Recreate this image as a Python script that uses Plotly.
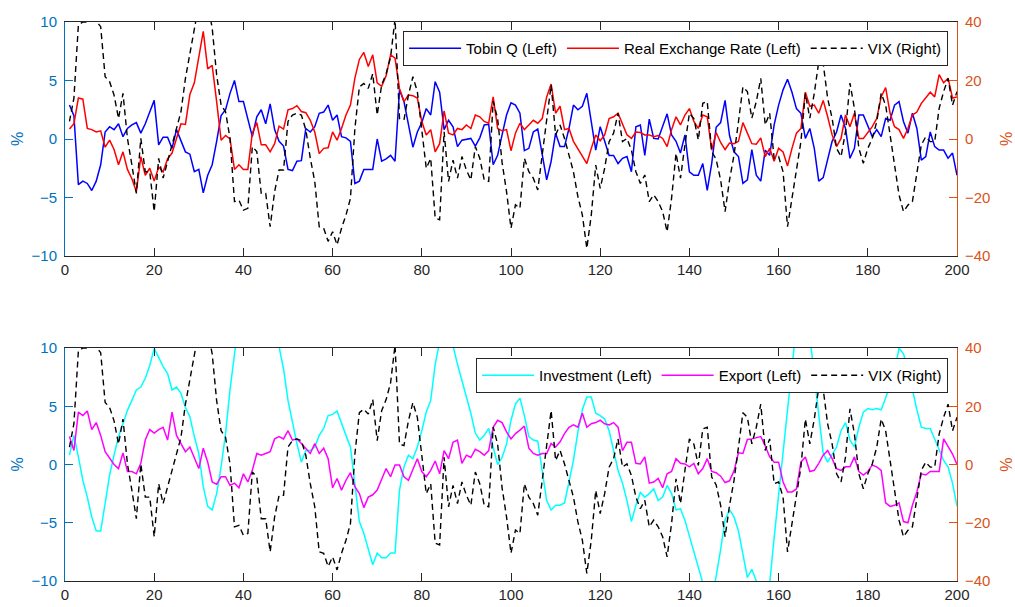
import plotly.graph_objects as go

x = list(range(1, 201))

tobin_q = [
    2.9, 2.0, -3.9, -3.6, -3.8, -4.4, -3.6, -2.2, 0.6, 1.05,
    0.8, 1.3, 0.2, 0.9, 1.2, 1.4, 0.5, 1.3, 2.3, 3.3,
    -0.5, 0.15, 0.15, -0.8, 0.8, -0.2, -1.1, -1.3, -2.8, -2.6,
    -4.6, -3.1, -2.2, -0.2, 2.0, 2.5, 3.9, 5.0, 3.2, 3.2,
    1.8, 0.2, 1.9, 2.5, 1.3, 3.0, 0.8, -0.2, -0.6, -2.6,
    -2.7, -1.9, -1.85, 0.9, 0.6, 1.05, 2.2, 2.3, 2.9, 1.6,
    2.05, 0.2, 0.1, -0.2, -3.8, -3.6, -2.6, -2.6, -2.6, 0.0,
    -1.9, -1.7, -1.4, -1.9, 4.2, 3.2, 1.2, -0.7, 0.6, 1.4,
    2.6, 2.05, 4.9, 4.0, 0.8, 1.6, 1.05, -0.65, -0.1, 0.0,
    0.05, -0.6, 0.1, 1.2, 1.25, -2.2, -1.4, 0.35, 2.05, 3.1,
    2.9, 2.2, -1.0, -0.8, 0.6, 0.85, -1.4, -3.5, -1.9, 0.5,
    -0.65, -0.65, 0.9, 2.9, 2.5, 2.8, 3.9, 1.6, -0.95, 1.05,
    -0.1, -1.4, -1.4, -2.1, -1.65, -1.5, -2.8, 1.05, 1.2, -1.4,
    1.7, 0.05, 0.0, 1.0, 2.15, 0.35, -0.2, -1.2, 0.35, -2.8,
    -3.1, -3.1, -2.1, -4.4, -2.1, 1.0, 1.4, 3.3, 0.3, -1.1,
    -1.5, -3.8, -3.5, -0.9, -3.1, -3.6, -0.95, -1.4, 1.2, 2.9,
    4.2, 5.1, 4.0, 2.6, 2.2, 0.05, 0.9, -0.8, -3.6, -3.3,
    -1.65, -0.2, 0.6, 2.05, 0.9, -1.65, -0.8, 2.05, 2.05, 1.2,
    0.2, 0.8, 0.2, 1.75, 1.6, 2.9, 3.2, 1.5, 0.5, 2.2,
    0.9, -1.8, -1.5, 0.6, -0.65, -0.95, -0.95, -1.65, -1.2, -3.1,
]

real_exchange_rate = [
    0.85, 1.3, 3.5, 3.4, 0.9, 0.8, 0.6, 0.7, -0.7, -0.1,
    -0.9, -2.2, -1.1, -2.6, -3.4, -4.5, -1.5, -3.1, -2.5, -3.6,
    -2.4, -2.8, -1.7, -1.2, 0.05, 1.3, 1.25, 3.8, 4.8, 7.0,
    9.2, 6.0, 6.3, 3.2, -0.1, 0.3, 0.0, -2.6, -2.2, -2.6,
    -2.6, 0.5, 1.4, -0.5, -0.5, -1.1, -0.4, 1.1, 0.85, 2.5,
    2.6, 2.85, 2.35, 2.25, 1.6, 0.6, -1.25, -0.8, -0.75, 0.6,
    -0.1, 0.9, 2.05, 2.9, 5.2, 6.8, 7.4, 6.2, 7.2, 4.8,
    4.5, 5.4, 7.2, 6.9, 4.3, 3.2, 3.75, 3.7, 3.5, 1.5,
    0.35, 0.8, -1.1, -0.4, 2.4, 0.5, 0.35, 0.9, 0.8, 1.2,
    0.9, 2.05, 1.9, 1.5, 1.35, 3.6, 0.9, 0.7, 0.8, -1.0,
    0.5, 1.35, 0.8, 1.2, 1.6, 1.35, 1.75, 3.6, 4.7, 2.2,
    2.8, 0.8, 0.9, -0.2, -0.8, -1.4, -2.1, -0.8, 0.35, -0.15,
    0.35, 1.75, 1.9, 2.2, 1.2, 0.35, 0.05, 0.6, 0.55, 0.35,
    0.35, 0.2, 0.3, 0.05, -0.65, 0.8, 1.9, 1.2, 2.05, 2.6,
    1.5, 0.9, 2.05, 1.9, -0.95, 0.55, -0.3, -0.9, -0.35, -0.4,
    -0.2, 1.4, 0.5, -0.4, -0.45, 0.1, -1.5, -0.8, -1.9, -0.8,
    -1.1, -2.3, -0.8, 0.5, 0.9, 4.0, 2.8, 2.9, 2.2, 3.3,
    1.9, 0.35, -0.65, 0.05, 2.05, 1.05, 2.2, 0.05, 0.05, 0.6,
    1.05, 1.75, 3.6, 4.4, 2.2, 1.05, 0.8, 0.05, 0.9, 2.05,
    2.3, 3.05, 3.5, 4.0, 3.6, 5.5, 4.8, 5.2, 3.5, 3.6,
]

vix = [
    6, 14, 39, 40, 40, 40.7, 40.3, 38.4, 21.3, 19.6,
    15, 7, 15.6, 0.2, -8.9, -18.6, 0.2, -11.2, -11.2, -24.8,
    -6.6, -13.4, -7.7, -2, 3.6, 9.3, 20.7, 29.9, 39.5, 46,
    50, 46, 38, 21.9, 11.6, 9.3, 0.2, -21.4, -20.9, -24.3,
    -23.7, -2.6, -4.3, -18.6, -18.6, -30, -18, -10.6, -10.6, 6,
    8.2, 8.8, 8.2, 3.1, -6.6, -14.5, -30, -30.5, -35, -31.7,
    -36.2, -30.5, -26, -20.3, 3.6, 17.8, 19, 17.3, 22.3, 8.2,
    18.5, 22.3, 28, 41, 7, 6.5, 15, 21.3, 16.2, 3.6,
    -10, -6.6, -27, -27.6, 2.5, -14.5, -7.2, -13.4, -6, -10.6,
    -14, -2.6, -6.6, -14, -14.5, 12.9, 7, -8, -18, -30.5,
    -22.5, -23.7, -6.6, -11.2, -13.4, -17.4, -5.5, 8.2, 18.5, 1.4,
    4.8, 0.2, -5.5, -11.2, -19.7, -26, -37.4, -26, -8.9, -16.9,
    -10, -0.9, 2, 8.8, -0.9, 0.2, -3.8, -11.2, -15.2, -12.3,
    -21.4, -19.1, -21.4, -24.8, -31.7, -20.3, -4.9, -13.4, -2, 8.8,
    7, -0.3, 12.2, 12.8, -4.3, -7, -14, -24.8, -14, -5.5,
    5.9, 17.8, 16.2, 7.1, 12.8, 20.7, 4.8, 8.8, -6.6, -6,
    -11.2, -30, -20.3, -10, -0.9, 15.6, 7.1, 15.6, 26.4, 25.8,
    13.9, 7.1, -3.2, -6, 2.5, 19.1, 10.5, -3.2, -8.3, -3.2,
    0.2, 5.9, 15.6, 11.6, 1.9, -8.9, -19.1, -24.8, -22.6, -21.4,
    -12.3, -2, 0.8, -0.9, -0.9, 10.5, 16.2, 20.7, 11.6, 16.2,
]

investment = [
    0.8, 2.5, 0.65, -1.35, -2.8, -4.5, -5.7, -5.7, -3.35, -0.9,
    0.8, 2.4, 3.5, 4.65, 5.5, 6.4, 6.65, 7.4, 8.5, 9.95,
    9.2, 8.4, 7.8, 6.4, 6.65, 6.1, 4.9, 4.1, 2.4, 0.95,
    -1.9, -3.6, -3.9, -2.5, -0.2, 2.65, 6.4, 9.8, 12.5, 14.5,
    15.5, 16, 15.5, 14.5, 13.5, 12.5, 11.3, 10.1, 8.2, 5.5,
    3.5, 1.8, 0.2, 1.2, 1.2, 1.5, 2.5, 3.1, 4.2, 4.3,
    4.6, 3.5, 2.5, 1.5, -1.6, -4.9, -5.9, -7.2, -8.6, -7.6,
    -8.0, -8.0, -7.6, -7.6, -2.2, -0.2, 0.8, 0.5, 1.5, 2.9,
    4.5, 5.5, 8.6, 10.5, 11.5, 11.0, 10.2, 8.6, 7.2, 5.8,
    4.4, 2.7, 2.1, 2.5, 3.1, 1.5, 0.0, 0.6, 1.75, 3.8,
    5.2, 5.7, 4.2, 2.4, 2.1, 2.0, -0.5, -3.1, -3.9, -3.5,
    -3.5, -3.3, -1.5, 0.35, 2.8, 4.7, 5.8, 5.8, 4.4, 4.2,
    3.9, 2.9, 1.2, -0.5, -1.6, -3.1, -4.9, -3.5, -2.4, -2.8,
    -2.5, -2.1, -3.1, -2.8, -1.8, -2.5, -3.9, -3.8, -4.8, -6.2,
    -7.7, -9.1, -10.5, -11.5, -11.5, -9.6, -7.3, -4.75, -3.9, -4.5,
    -5.7, -7.7, -9.7, -9.0, -9.9, -11.0, -11.5, -10.2, -6.3, -2.6,
    1.1, 4.8, 8.5, 12.0, 13.5, 13.5, 11.0, 7.8, 4.4, 0.95,
    0.2, 0.8, 1.5, 2.9, 3.6, 2.1, 1.5, 3.2, 4.5, 4.8,
    4.7, 4.8, 4.7, 5.7, 6.8, 8.0, 10.0, 9.5, 8.2, 6.4,
    4.7, 3.2, 3.1, 3.1, 2.2, 1.2, 0.35, -0.2, -1.6, -3.6,
]

export = [
    2.4, 1.2, 4.5, 4.2, 4.6, 3.0, 3.6, 2.5, 1.1, 0.5,
    0.0, -0.35, 1.0, -0.6, -0.6, -0.8, 0.1, 2.1, 3.0, 2.7,
    3.0, 3.2, 2.1, 4.5, 2.5, 1.8, 1.1, 1.5, 0.65, -0.35,
    1.4, 0.2, -1.5, -1.7, -1.05, -1.05, -1.8, -1.6, -2.0, -0.8,
    -1.5, -0.5, 0.95, 0.8, 0.95, 1.1, 2.2, 2.4, 2.2, 2.9,
    2.1, 2.2, 1.8, 1.4, 0.95, 1.8, 0.95, 1.4, 0.5, -2.0,
    -1.2, -2.2, -1.35, -0.7, -1.9, -2.5, -3.7, -2.8, -2.6, -2.2,
    -1.35, -0.35, -1.05, -0.05, -0.05, -1.05, -1.35, -0.35, 0.5, -0.6,
    -1.05, -0.5, 0.3, -0.8, 1.2, 0.5, 1.9, 2.1, 0.1, 0.8,
    0.6, 1.3, 1.1, 0.8, 1.2, 3.2, 3.8, 3.6, 2.8, 2.2,
    2.65, 2.95, 3.3, 1.4, 0.95, 0.8, 0.95, 0.95, 1.8, 1.5,
    1.95, 2.65, 3.2, 3.4, 3.2, 4.4, 3.2, 3.5, 3.6, 3.8,
    3.5, 3.4, 3.6, 3.2, 1.2, 1.9, 1.9, 0.1, 0.05, 0.65,
    -1.6, -1.5, -1.2, -2.0, -0.8, -0.6, 0.5, 0.1, 0.05, -0.2,
    0.1, -0.8, -0.35, 0.5, -0.6, -0.7, -1.0, -1.55, -1.4, -0.55,
    1.0, 0.95, 2.15, 2.2, 2.3, 2.4, 1.6, 0.65, 0.2, 0.2,
    -1.5, -2.35, -2.35, -2.1, 0.2, 0.65, -0.6, -0.5, 0.1, 0.8,
    1.2, 0.5, -0.35, -0.5, -0.2, -0.2, 0.65, -0.6, -0.9, -0.6,
    -0.05, -0.2, -0.5, -3.3, -3.6, -3.5, -3.3, -4.9, -5.0, -3.5,
    -2.35, -0.8, -0.9, -0.6, -0.6, -0.6, 2.2, 1.5, 0.9, 0.0,
]

x_ticks = list(range(0, 201, 20))
left_ticks = [-10, -5, 0, 5, 10]
right_ticks = [-40, -20, 0, 20, 40]

LEFT_C = "#0072BD"
RIGHT_C = "#D95319"
AX_C = "#262626"
FONT = "Liberation Sans, Arial, Helvetica, sans-serif"

fig = go.Figure()

def line(y, name, color, xa, ya, legend, dash=None, width=1.5):
    fig.add_trace(go.Scatter(
        x=x, y=y, name=name, mode="lines", xaxis=xa, yaxis=ya, legend=legend,
        line=dict(color=color, width=width, dash=dash),
    ))

line(tobin_q, "Tobin Q (Left)", "#0000FF", "x", "y", "legend")
line(real_exchange_rate, "Real Exchange Rate (Left)", "#FF0000", "x", "y", "legend")
line(vix, "VIX (Right)", "#000000", "x", "y2", "legend", dash="6px,4px", width=1.4)
line(investment, "Investment (Left)", "#00FFFF", "x2", "y3", "legend2")
line(export, "Export (Left)", "#FF00FF", "x2", "y3", "legend2")
line(vix, "VIX (Right)", "#000000", "x2", "y4", "legend2", dash="6px,4px", width=1.4)

top_dom = [0.5814, 1.0]
bot_dom = [0.0, 0.4168]

def xaxis(anchor):
    return dict(
        domain=[0, 1], anchor=anchor, range=[0, 200], tickvals=x_ticks,
        ticks="inside", ticklen=8, tickcolor=AX_C, showline=True, linecolor=AX_C,
        linewidth=1, mirror="ticks", showgrid=False, zeroline=False,
        tickfont=dict(color=AX_C, size=15, family=FONT), automargin=False,
    )

def yleft(domain, anchor):
    return dict(
        domain=domain, anchor=anchor, range=[-10, 10], tickvals=left_ticks,
        ticks="inside", ticklen=8, tickcolor=LEFT_C, showline=True, linecolor=LEFT_C,
        linewidth=1, showgrid=False, zeroline=False,
        tickfont=dict(color=LEFT_C, size=15, family=FONT),
        title=dict(text="%", font=dict(color=LEFT_C, size=16, family=FONT), standoff=3),
        automargin=False, ticklabelstandoff=4,
    )

def yright(over, anchor):
    return dict(
        overlaying=over, anchor=anchor, side="right", range=[-40, 40], tickvals=right_ticks,
        ticks="inside", ticklen=8, tickcolor=RIGHT_C, showline=True, linecolor=RIGHT_C,
        linewidth=1, showgrid=False, zeroline=False,
        tickfont=dict(color=RIGHT_C, size=15, family=FONT),
        title=dict(text="%", font=dict(color=RIGHT_C, size=16, family=FONT), standoff=18),
        automargin=False, ticklabelstandoff=4,
    )

legend_style = dict(
    orientation="h", xanchor="right", yanchor="top", bgcolor="white",
    bordercolor=AX_C, borderwidth=1, font=dict(size=15, color="#000000", family=FONT),
    itemwidth=52, tracegroupgap=0,
)

fig.update_layout(
    width=1015, height=607,
    margin=dict(l=65, r=58, t=22, b=26),
    paper_bgcolor="white", plot_bgcolor="white",
    font=dict(family=FONT, size=15, color=AX_C),
    xaxis=xaxis("y"),
    xaxis2=xaxis("y3"),
    yaxis=yleft(top_dom, "x"),
    yaxis2=yright("y", "x"),
    yaxis3=yleft(bot_dom, "x2"),
    yaxis4=yright("y3", "x2"),
    legend=dict(x=0.99, y=0.984, **legend_style),
    legend2=dict(x=0.99, y=0.399, **legend_style),
    showlegend=True,
)

fig.write_html("out.html")
